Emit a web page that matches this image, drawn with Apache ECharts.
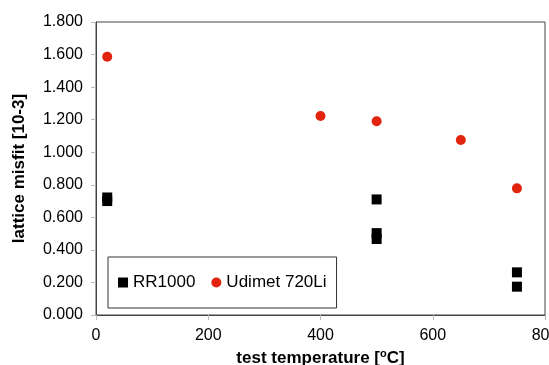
<!DOCTYPE html>
<html>
<head>
<meta charset="utf-8">
<script src="https://cdn.jsdelivr.net/npm/echarts@6/dist/echarts.min.js"></script>
<style>
  html, body { margin: 0; padding: 0; background: #fff; }
  #chart { width: 549px; height: 365px; }
</style>
</head>
<body>
<div id="chart"></div>
<script>
// data
var rr1000 = [
  [20, 0.722], [20, 0.700],
  [500, 0.710], [500, 0.503], [500, 0.467],
  [750, 0.262], [750, 0.174]
];
var udimet = [
  [20, 1.587], [400, 1.222], [500, 1.190], [650, 1.075], [750, 0.778]
];
var seriesNames = ["RR1000", "Udimet 720Li"];

var font = "Liberation Sans, Arial, sans-serif";

var option = {
  animation: false,
  grid: {
    left: 96, right: 4, top: 22, bottom: 50,
    outerBoundsMode: "none",
    show: true, borderColor: "#444", borderWidth: 1
  },
  legend: {
    left: 108, top: 257,
    padding: [17, 10, 17, 10],
    borderColor: "#333", borderWidth: 1,
    itemGap: 16, itemWidth: 10, itemHeight: 10,
    textStyle: { fontFamily: font, fontSize: 17, color: "#000" },
    data: [
      { name: seriesNames[0], icon: "rect" },
      { name: seriesNames[1], icon: "circle" }
    ]
  },
  xAxis: {
    type: "value", min: 0, max: 800, interval: 200,
    name: "test temperature [{sup|o}C]",
    nameLocation: "middle", nameGap: 28,
    nameTextStyle: {
      fontFamily: font, fontSize: 17, fontWeight: "bold", color: "#000",
      rich: { sup: { fontSize: 11, fontWeight: "bold", verticalAlign: "top", padding: [0, 0, 8, 0], color: "#000" } }
    },
    axisLine: { lineStyle: { color: "#444" } },
    axisTick: { show: true, length: 5, lineStyle: { color: "#bbb" } },
    splitLine: { show: false },
    axisLabel: { margin: 13, fontFamily: font, fontSize: 16, color: "#000" }
  },
  yAxis: {
    type: "value", min: 0, max: 1.8, interval: 0.2,
    name: "lattice misfit [10-3]",
    nameLocation: "middle", nameGap: 68, nameRotate: 90,
    nameTextStyle: { fontFamily: font, fontSize: 17, fontWeight: "bold", color: "#000" },
    axisLine: { show: true, lineStyle: { color: "#444" } },
    axisTick: { show: true, length: 5, lineStyle: { color: "#bbb" } },
    splitLine: { show: false },
    axisLabel: {
      margin: 13, fontFamily: font, fontSize: 16, color: "#000",
      formatter: function (v) { return v.toFixed(3); }
    }
  },
  series: [
    {
      name: seriesNames[0], type: "scatter", data: rr1000,
      symbol: "rect", symbolSize: 10,
      itemStyle: { color: "#000", opacity: 1 }
    },
    {
      name: seriesNames[1], type: "scatter", data: udimet,
      symbol: "circle", symbolSize: 10,
      itemStyle: { color: "#e2230e", opacity: 1 }
    }
  ]
};

var chart = echarts.init(document.getElementById("chart"));
chart.setOption(option);
</script>
</body>
</html>
